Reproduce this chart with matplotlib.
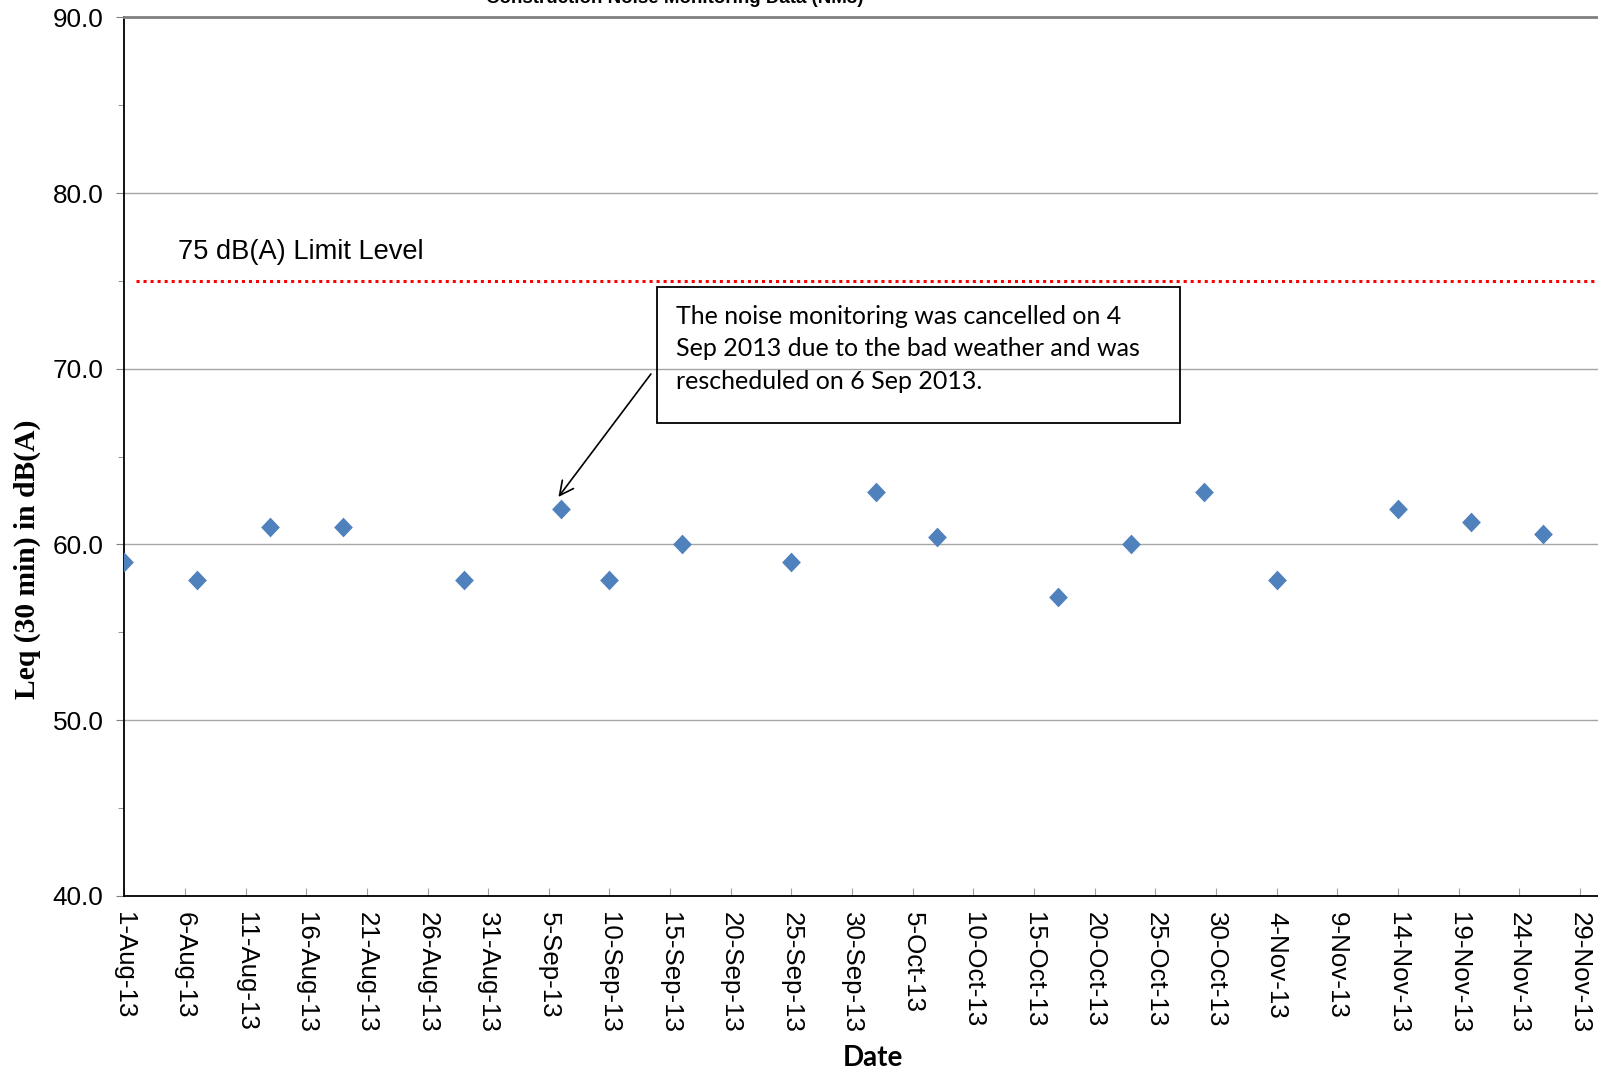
import numpy as np
import pandas as pd
import matplotlib
matplotlib.use("Agg")
import matplotlib.pyplot as plt
import matplotlib.dates as mdates
from matplotlib.path import Path
from matplotlib.patches import Rectangle

# measured dates and Leq values (dB(A))
dates = ["2013-08-01", "2013-08-07", "2013-08-13", "2013-08-19", "2013-08-29",
         "2013-09-06", "2013-09-10", "2013-09-16", "2013-09-25", "2013-10-02",
         "2013-10-07", "2013-10-17", "2013-10-23", "2013-10-29", "2013-11-04",
         "2013-11-14", "2013-11-20", "2013-11-26"]
leq = [59.0, 58.0, 61.0, 61.0, 58.0, 62.0, 58.0, 60.0, 59.0, 63.0,
       60.4, 57.0, 60.0, 63.0, 58.0, 62.0, 61.3, 60.6]

limit_level = 75.0
limit_dates = ["2013-08-02 00:00", "2013-11-30 12:00"]

title = "Construction Noise Monitoring Data (NM3)"
note = ("The noise monitoring was cancelled on 4\n"
        "Sep 2013 due to the bad weather and was\n"
        "rescheduled on 6 Sep 2013.")

x = pd.to_datetime(dates)
tick_dates = pd.date_range("2013-08-01", "2013-11-29", freq="5D")
tick_labels = [f"{d.day}-{d:%b-%y}" for d in tick_dates]

fig = plt.figure(figsize=(15.98, 10.76), dpi=100)
ax = fig.add_axes([0.0778, 0.1675, 0.9222, 0.8164])

diamond = Path([(0, 1), (0.95, 0), (0, -1), (-0.95, 0), (0, 1)],
               [Path.MOVETO, Path.LINETO, Path.LINETO, Path.LINETO, Path.CLOSEPOLY])
ax.plot(x, leq, linestyle="none", marker=diamond, markersize=14.2,
        color="#4F81BD", markeredgewidth=0, zorder=3)

ld = pd.to_datetime(limit_dates)
ax.plot(ld, [limit_level, limit_level], color="red", lw=2.2,
        dashes=(1, 1.3), dash_capstyle="butt", zorder=2)
ax.text(pd.Timestamp("2013-08-05 11:00"), 75.9, "75 dB(A) Limit Level",
        fontsize=19.6, family="Liberation Sans", va="bottom", ha="left")

# note box and arrow
x0 = mdates.date2num(pd.Timestamp("2013-08-01")) + 43.95
x1 = mdates.date2num(pd.Timestamp("2013-08-01")) + 87.06
ax.add_patch(Rectangle((x0, 66.92), x1 - x0, 74.65 - 66.92, fill=False,
                       edgecolor="black", lw=1.3, zorder=4))
ax.text(x0 + 1.5, 73.65, note, fontsize=18, family="Lato", va="top", ha="left",
        linespacing=1.5, zorder=4)
ax.annotate("", xy=(pd.Timestamp("2013-09-05 19:00"), 62.7),
            xytext=(pd.Timestamp("2013-09-13 10:00"), 69.7),
            arrowprops=dict(arrowstyle="->", color="black", lw=1.2,
                            mutation_scale=25, shrinkA=0, shrinkB=0))

ax.set_xlim(pd.Timestamp("2013-08-01"), pd.Timestamp("2013-11-30 12:00"))
ax.set_ylim(40, 90)
ax.set_xticks(tick_dates)
ax.set_xticklabels(tick_labels, rotation=270, fontsize=18.6,
                   family="Liberation Sans", va="top", ha="center")
ax.set_yticks(np.arange(40, 91, 10))
ax.set_yticklabels([f"{v:.1f}" for v in np.arange(40, 91, 10)],
                   fontsize=18.8, family="Liberation Sans")
ax.set_yticks(np.arange(45, 90, 10), minor=True)
ax.tick_params(axis="x", direction="in", length=6, color="#a0a0a0", pad=12)
ax.tick_params(axis="y", which="major", direction="out", length=6, color="#808080", pad=9)
ax.tick_params(axis="y", which="minor", direction="out", length=4, color="#808080")

ax.grid(axis="y", which="major", color="#a6a6a6", lw=1)
ax.set_axisbelow(True)
ax.spines["right"].set_visible(False)
ax.spines["top"].set_color("#808080")
ax.spines["top"].set_linewidth(2)
ax.spines["left"].set_linewidth(1.3)
ax.spines["bottom"].set_linewidth(1.3)

ax.set_ylabel("Leq (30 min) in dB(A)", fontsize=21.3, family="Liberation Serif",
              fontweight="bold")
ax.yaxis.set_label_coords(-0.0567, 0.383)
fig.text(0.5465, 0.0167, "Date", fontsize=20, family="Lato", fontweight="bold",
         ha="center", va="center")
fig.text(0.4225, 0.9974, title, fontsize=13.5, family="Liberation Sans",
         fontweight="bold", ha="center", va="baseline")

fig.savefig("out.png", dpi=100)
